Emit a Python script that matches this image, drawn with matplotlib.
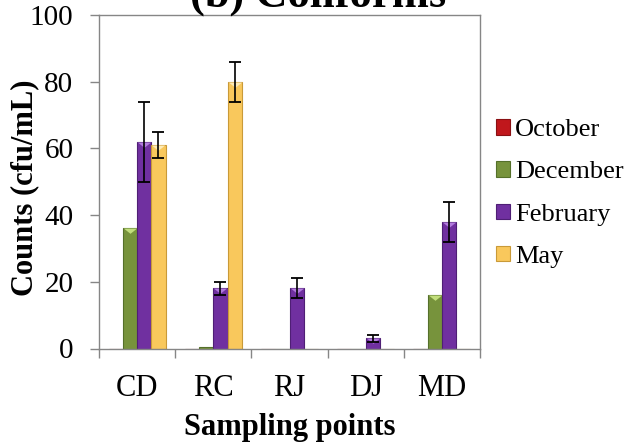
import numpy as np
import matplotlib
matplotlib.use('Agg')
import matplotlib.pyplot as plt
from matplotlib.patches import Patch
from matplotlib.path import Path

#--------------------------------------------------#
sites = ['CD', 'RC', 'RJ', 'DJ', 'MD']
months = ['October', 'December', 'February', 'May']
october = [0, 0, 0, 0, 0]
december = [36, 0.5, 0, 0, 16]
february = [62, 18, 18, 3, 38]
may = [61, 80, 0, 0, 0]
feb_err = [12, 2, 3, 1, 6]
may_err = [4, 6, 0, 0, 0]

colors = ['#C0171C', '#77933C', '#7030A0', '#F9C85C']  #Bar face colours.
edges = ['#8A1013', '#55702A', '#4F1F75', '#C99A38']  #Darker sides.
tops = ['#F06A6D', '#C2DE7C', '#B27BDD', '#FFEBB5']  #Lighter bevel at the bar top.
#--------------------------------------------------#

plt.rcParams['font.family'] = ['Liberation Serif', 'DejaVu Serif']
grey = '#868686'

fig = plt.figure(figsize=(6.36, 4.45), dpi=100)
ax = fig.add_axes([99/636, 1-348.5/445, 381/636, 333.5/445])

x = np.arange(len(sites))
w = 0.187
series = [october, december, february, may]
errs = [None, None, feb_err, may_err]
bevel = Path([(-1, 0), (1, 0), (0, -0.8), (-1, 0)], [1, 2, 2, 79])

for i, vals in enumerate(series):
    pos = x + (i - 1.5) * w
    ax.bar(pos, vals, w, color=colors[i], edgecolor=edges[i], linewidth=0.8, zorder=2)
    vals = np.array(vals, dtype=float)
    keep = vals > 1
    ax.plot(pos[keep], vals[keep], ls='none', marker=bevel, markersize=9.6,
            color=tops[i], markeredgewidth=0, zorder=3)
    if errs[i] is not None:
        e = np.array(errs[i], dtype=float)
        ok = e > 0
        ax.errorbar(pos[ok], vals[ok], yerr=e[ok], fmt='none', ecolor='black',
                    elinewidth=1.2, capsize=4.2, capthick=1.3, zorder=4)

ax.set_xlim(-0.5, len(sites) - 0.5)
ax.set_ylim(0, 100)
ax.set_yticks([0, 20, 40, 60, 80, 100])
ax.set_xticks(x)
ax.set_xticklabels(sites)
ax.set_xticks(np.arange(len(sites) + 1) - 0.5, minor=True)
ax.tick_params(axis='x', which='major', length=0, pad=18, labelsize=22)
ax.tick_params(axis='x', which='minor', length=6.5, width=1.0, color=grey)
ax.tick_params(axis='y', length=6.5, width=1.0, color=grey, pad=12, labelsize=21)
for s in ax.spines.values():
    s.set_color(grey)
    s.set_linewidth(1.0)

fig.text(0.5, 1-7/445, '(b) Coliforms', ha='center', va='baseline', fontsize=32, fontweight='bold')
fig.text(25/636, 1-188/445, 'Counts (cfu/mL)', rotation=90, ha='center', va='center',
         fontsize=22, fontweight='bold')
fig.text(289.5/636, 1-435/445, 'Sampling points', ha='center', va='baseline',
         fontsize=22, fontweight='bold')

handles = [Patch(facecolor=colors[i], edgecolor=edges[i], linewidth=0.8) for i in range(4)]
fig.legend(handles, months, loc='center left', bbox_to_anchor=(496/636, 1-193.5/445),
           frameon=False, fontsize=19, handlelength=0.53, handleheight=0.53,
           handletextpad=0.2, labelspacing=0.76, borderpad=0, borderaxespad=0)

fig.savefig('out.png', dpi=100)
